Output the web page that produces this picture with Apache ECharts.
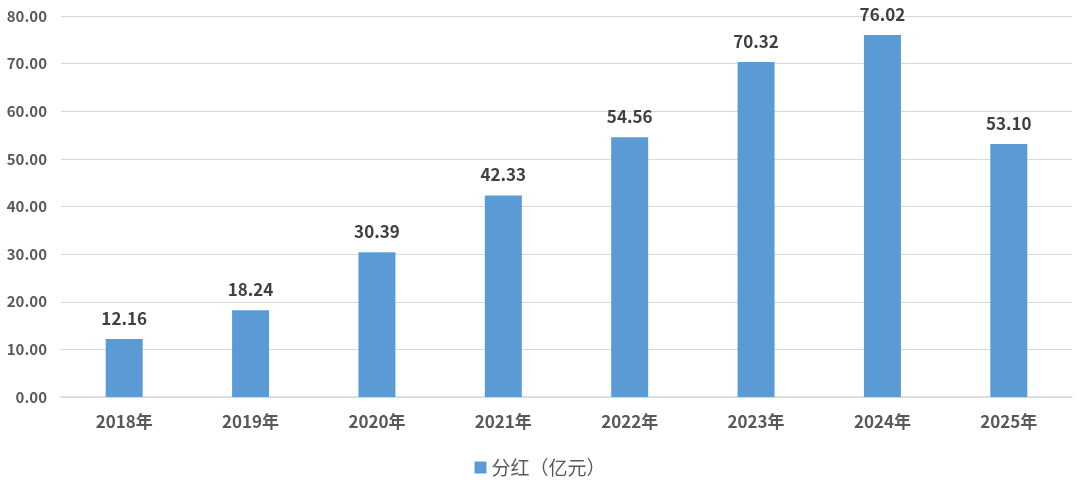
<!DOCTYPE html>
<html><head><meta charset="utf-8">
<script src="https://cdn.jsdelivr.net/npm/echarts@6/dist/echarts.min.js"></script>
<style>html,body{margin:0;padding:0;background:#fff}#c{width:1080px;height:482px}</style>
</head><body><div id="c"></div>
<script>
const categories = ['2018年','2019年','2020年','2021年','2022年','2023年','2024年','2025年'];
const dividends = [12.16, 18.24, 30.39, 42.33, 54.56, 70.32, 76.02, 53.10];
const seriesName = '分红（亿元）';
const font = '"Noto Sans CJK SC", "Microsoft YaHei", sans-serif';
const chart = echarts.init(document.getElementById('c'));
chart.setOption({
  animation: false,
  grid: { left: 61, right: 8, top: 16, bottom: 85, containLabel: false },
  legend: {
    top: 453, left: 'center', itemWidth: 12, itemHeight: 12, itemGap: 10,
    icon: 'rect',
    textStyle: { color: '#595959', fontSize: 19, fontFamily: font },
    data: [seriesName]
  },
  xAxis: {
    type: 'category', data: categories,
    axisLine: { lineStyle: { color: '#D9D9D9', width: 1.5 } },
    axisTick: { show: false },
    axisLabel: { color: '#595959', fontSize: 17, fontWeight: 'bold', fontFamily: font, margin: 16 }
  },
  yAxis: {
    type: 'value', min: 0, max: 80, interval: 10,
    axisLine: { show: false }, axisTick: { show: false },
    splitLine: { lineStyle: { color: '#D9D9D9', width: 1.2 } },
    axisLabel: { color: '#595959', fontSize: 15, fontWeight: 'bold', fontFamily: font, margin: 14,
      formatter: v => v.toFixed(2) }
  },
  series: [{
    name: seriesName, type: 'bar', data: dividends, barWidth: 37,
    itemStyle: { color: '#5B9BD5' },
    label: { show: true, position: 'top', distance: 12, color: '#404040', fontSize: 17,
      fontWeight: 'bold', fontFamily: font, formatter: p => p.value.toFixed(2) }
  }]
});
</script></body></html>
